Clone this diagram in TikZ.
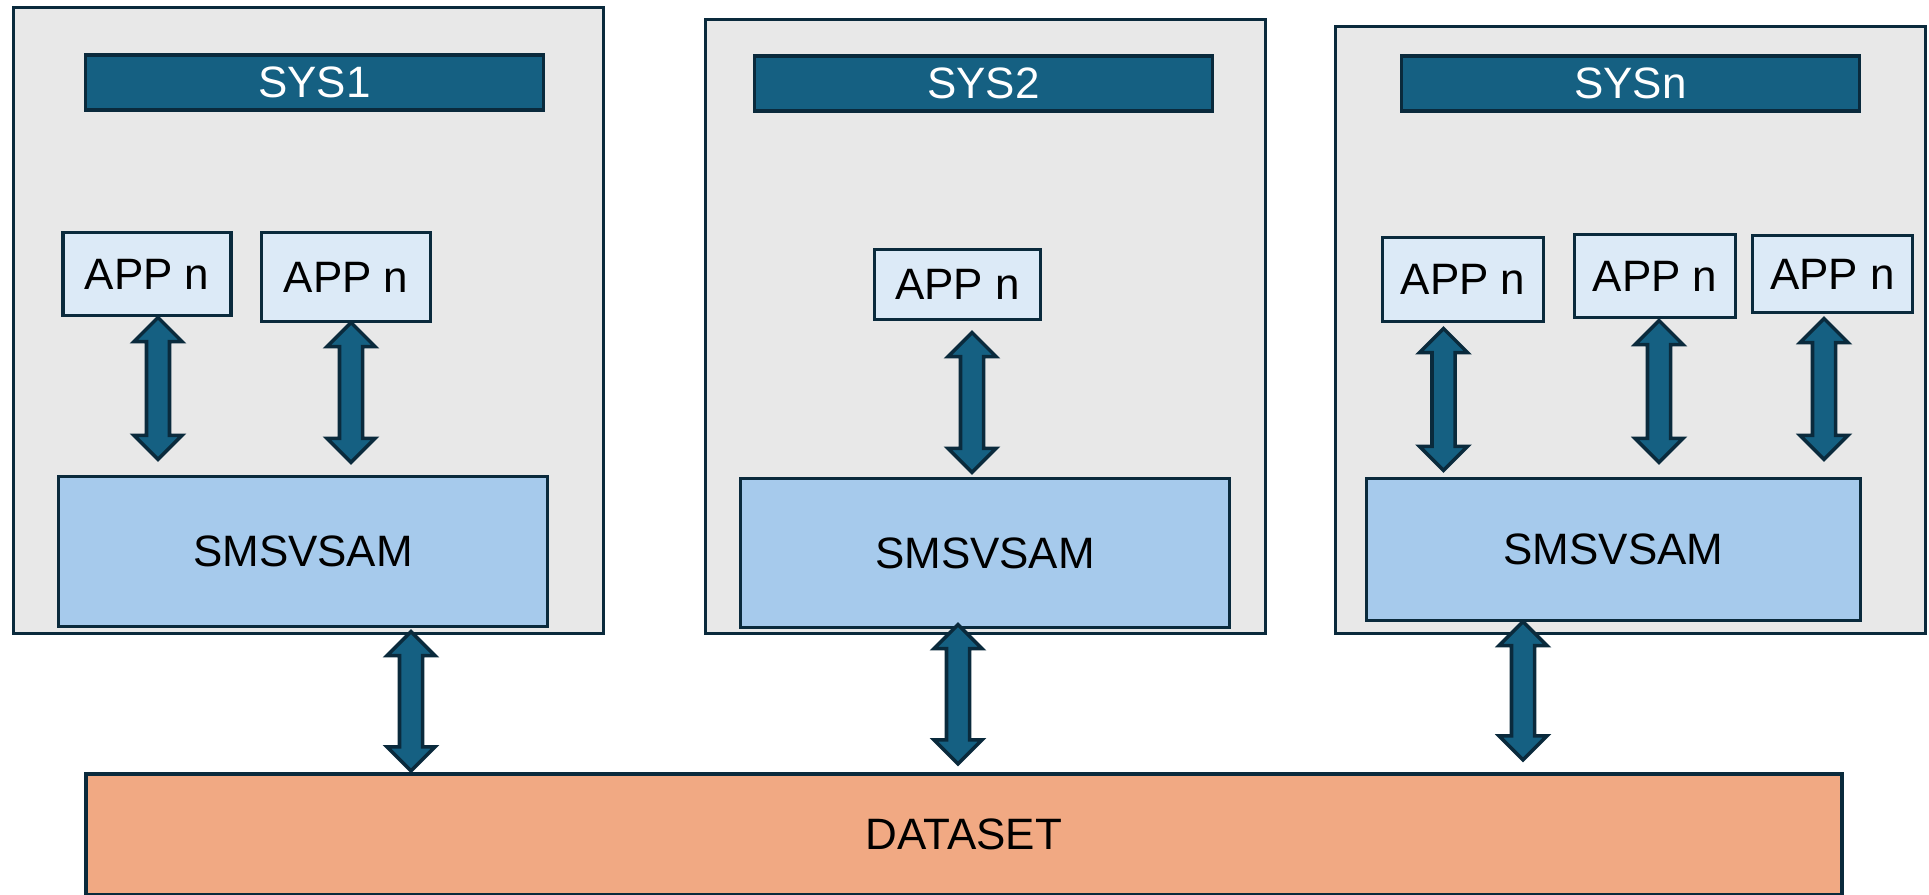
\documentclass[tikz,border=0pt]{standalone}
\usepackage{fontspec}
\setmainfont{Liberation Sans}
\usetikzlibrary{calc}

\definecolor{sysgray}{HTML}{E8E8E8}
\definecolor{edgeblue}{HTML}{0A2A3C}
\definecolor{sysblue}{HTML}{156082}
\definecolor{applight}{HTML}{DCEAF7}
\definecolor{smsblue}{HTML}{A6CAEC}
\definecolor{dataorange}{HTML}{F1A983}

\tikzset{
	fatarrow/.style={draw=edgeblue,fill=sysblue,line width=1pt,line join=miter,
		to path={let \p1=(\tikztostart), \p2=(\tikztotarget) in
			(\x1,\y1) -- (\x1+0.24cm,\y1-0.24cm) -- (\x1+0.115cm,\y1-0.24cm)
			-- (\x1+0.115cm,\y2+0.24cm) -- (\x1+0.24cm,\y2+0.24cm) -- (\x1,\y2)
			-- (\x1-0.24cm,\y2+0.24cm) -- (\x1-0.115cm,\y2+0.24cm)
			-- (\x1-0.115cm,\y1-0.24cm) -- (\x1-0.24cm,\y1-0.24cm) -- cycle}}
}

\begin{document}
\begin{tikzpicture}[x=0.01cm,y=-0.01cm,text badly centered]

	\useasboundingbox (0,0) rectangle (1929,895);

	\begin{scope}[every node/.style={draw=edgeblue,line width=1pt,rectangle,outer sep=0cm,font=\fontsize{12.5}{15}\selectfont}]
		% systems
		\node[fill=sysgray,minimum width=5.90cm,minimum height=6.26cm] (sys1) at (308.5,320.5) {};
		\node[fill=sysgray,minimum width=5.60cm,minimum height=6.14cm] (sys2) at (985.5,326.5) {};
		\node[fill=sysgray,minimum width=5.90cm,minimum height=6.07cm] (sysn) at (1630.5,330) {};

		\node[fill=sysblue,text=white,minimum width=4.58cm,minimum height=0.49cm] (head1) at (314.5,82.5) {SYS1};
		\node[fill=sysblue,text=white,minimum width=4.58cm,minimum height=0.48cm] (head2) at (983.5,83.5) {SYS2};
		\node[fill=sysblue,text=white,minimum width=4.58cm,minimum height=0.48cm] (headn) at (1630.5,83.5) {SYSn};

		% applications
		\node[fill=applight,minimum width=1.68cm,minimum height=0.83cm] (app1a) at (147,274) {APP n};
		\node[fill=applight,minimum width=1.69cm,minimum height=0.89cm] (app1b) at (346,277) {APP n};
		\node[fill=applight,minimum width=1.66cm,minimum height=0.70cm] (app2) at (957.5,284.5) {APP n};
		\node[fill=applight,minimum width=1.61cm,minimum height=0.84cm] (appna) at (1463,279.5) {APP n};
		\node[fill=applight,minimum width=1.61cm,minimum height=0.83cm] (appnb) at (1655,276) {APP n};
		\node[fill=applight,minimum width=1.60cm,minimum height=0.77cm] (appnc) at (1832.5,274) {APP n};

		\node[fill=smsblue,minimum width=4.89cm,minimum height=1.50cm] (sms1) at (303,551.5) {SMSVSAM};
		\node[fill=smsblue,minimum width=4.89cm,minimum height=1.49cm] (sms2) at (985,553) {SMSVSAM};
		\node[fill=smsblue,minimum width=4.94cm,minimum height=1.42cm] (smsn) at (1613.5,549.5) {SMSVSAM};

		\node[fill=dataorange,minimum width=17.55cm,minimum height=1.21cm] (data) at (964,834.5) {DATASET};
	\end{scope}

	% app <-> smsvsam
	\draw[fatarrow] ($(app1a.south)+(11,2)$) to ($(app1a.south |- sms1.north)+(11,-17)$);
	\draw[fatarrow] ($(app1b.south)+(5,1)$) to ($(app1b.south |- sms1.north)+(5,-14)$);
	\draw[fatarrow] ($(app2.south)+(14.5,13)$) to ($(app2.south |- sms2.north)+(14.5,-6)$);
	\draw[fatarrow] ($(appna.south)+(-19.5,7)$) to ($(appna.south |- smsn.north)+(-19.5,-8)$);
	\draw[fatarrow] ($(appnb.south)+(4,3)$) to ($(appnb.south |- smsn.north)+(4,-16)$);
	\draw[fatarrow] ($(appnc.south)+(-8.5,6)$) to ($(appnc.south |- smsn.north)+(-8.5,-19)$);

	% smsvsam <-> dataset
	\draw[fatarrow] ($(sms1.south)+(108,5)$) to ($(sms1.south |- data.north)+(108,-3)$);
	\draw[fatarrow] ($(sms2.south)+(-27,-3)$) to ($(sms2.south |- data.north)+(-27,-10)$);
	\draw[fatarrow] ($(smsn.south)+(-90.5,1)$) to ($(smsn.south |- data.north)+(-90.5,-14)$);

\end{tikzpicture}
\end{document}
